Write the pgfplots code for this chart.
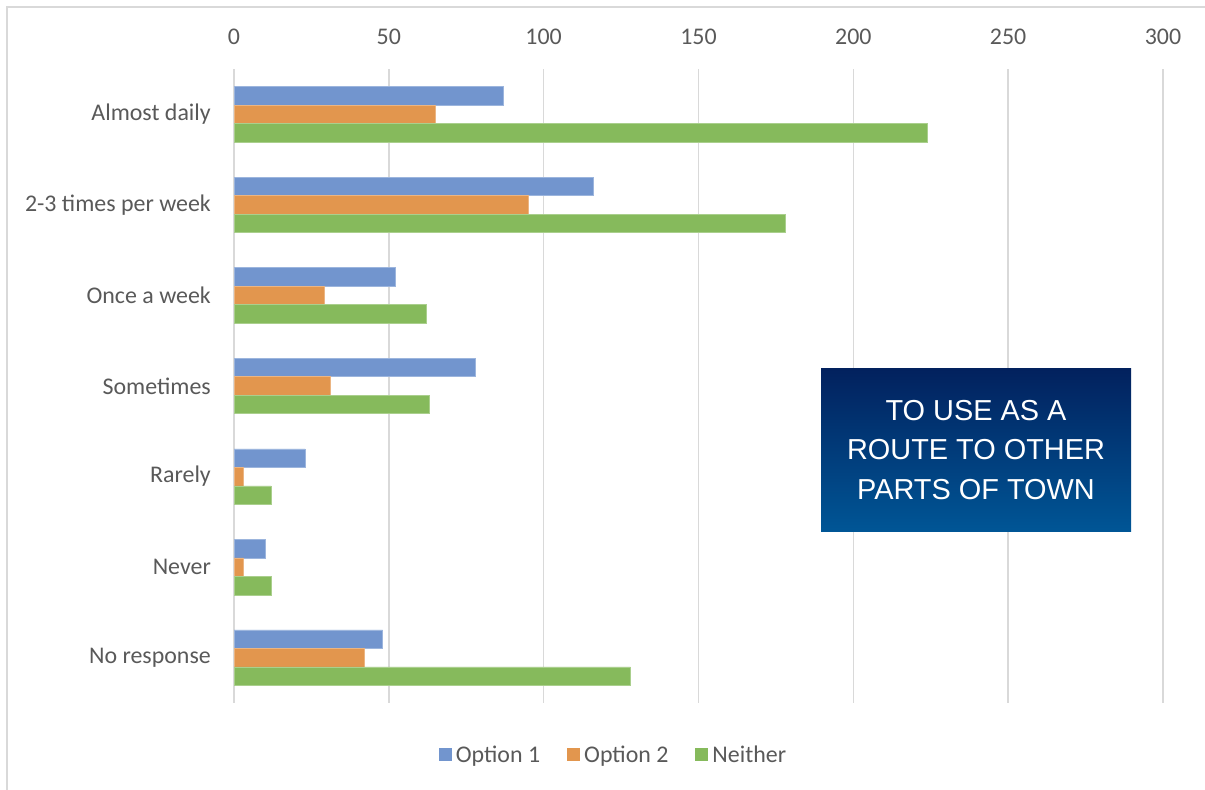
\documentclass[border=0pt]{standalone}
\usepackage{pgfplots}
\pgfplotsset{compat=1.18}
\usepackage{fontspec}
\setmainfont{Carlito}
\newfontfamily\arialf{Liberation Sans}
\definecolor{cOne}{RGB}{114,149,206}
\definecolor{cTwo}{RGB}{226,150,78}
\definecolor{cThree}{RGB}{134,186,92}
\definecolor{txt}{RGB}{89,89,89}
\definecolor{gridc}{RGB}{217,217,217}
\definecolor{boxtop}{RGB}{2,33,94}
\definecolor{boxbot}{RGB}{0,86,150}
\begin{document}
\begin{tikzpicture}
\path[use as bounding box] (0bp,0bp) rectangle (1205bp,790bp);
\draw[gridc, line width=1.5bp] (7bp,0bp) -- (7bp,783bp) -- (1205bp,783bp);
\begin{axis}[
  at={(234bp,87bp)}, anchor=south west,
  scale only axis, width=929bp, height=634bp,
  xmin=0, xmax=300, xtick={0,50,...,300},
  ymin=-0.5, ymax=6.5, y dir=reverse,
  ytick={0,...,6},
  yticklabels={Almost daily,2-3 times per week,Once a week,Sometimes,Rarely,Never,No response},
  axis line style={draw=none},
  major tick length=0pt,
  xmajorgrids, grid style={gridc, line width=1.5bp},
  xticklabel pos=upper,
  /pgf/number format/assume math mode=true,
  font=\fontsize{24}{28}\selectfont,
  every tick label/.append style={text=txt},
  xticklabel style={inner sep=0pt, anchor=south, yshift=24bp},
  yticklabel style={inner sep=0pt, anchor=east, xshift=-23bp},
  xbar, bar width=18.5bp,
  legend columns=3,
  legend style={draw=none, at={(0.4085,-0.082)}, anchor=center, font=\fontsize{24}{28}\selectfont\color{txt},
    /tikz/every odd column/.append style={column sep=2bp},
    /tikz/every even column/.append style={column sep=25bp}},
  legend image code/.code={\fill[#1,draw=none] (0bp,-6.5bp) rectangle (13bp,6.5bp);},
]
\addplot[fill=cOne, draw=cOne!70!white, line width=0.6bp, bar shift=18.5bp] coordinates {(87,0) (116,1) (52,2) (78,3) (23,4) (10,5) (48,6)};
\addplot[fill=cTwo, draw=cTwo!70!white, line width=0.6bp, bar shift=0bp] coordinates {(65,0) (95,1) (29,2) (31,3) (3,4) (3,5) (42,6)};
\addplot[fill=cThree, draw=cThree!70!white, line width=0.6bp, bar shift=-18.5bp] coordinates {(224,0) (178,1) (62,2) (63,3) (12,4) (12,5) (128,6)};
\legend{Option 1,Option 2,Neither}
\end{axis}
\shade[top color=boxtop, bottom color=boxbot] (821bp,258bp) rectangle (1131bp,421bp);
\node[text=white, align=center, font=\arialf\fontsize{29}{40}\selectfont] at (976bp,340bp) {TO USE AS A\\ROUTE TO OTHER\\PARTS OF TOWN};
\end{tikzpicture}
\end{document}
